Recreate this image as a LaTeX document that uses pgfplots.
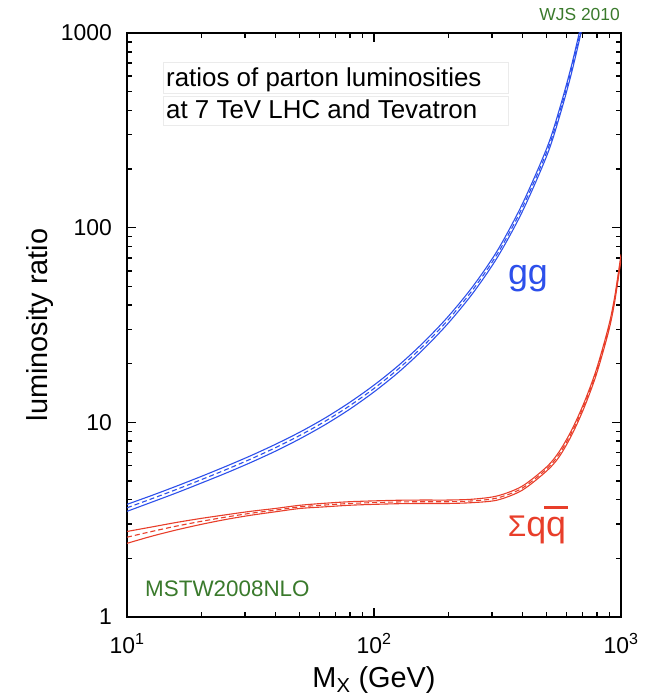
\documentclass[border=0pt]{standalone}
\usepackage{pgfplots}
\usepackage{pgfplotstable}
\pgfplotsset{compat=1.18}
\usepackage{fontspec}
\setmainfont{Liberation Sans}
\definecolor{ggblue}{RGB}{45,80,235}
\definecolor{qqred}{RGB}{232,62,42}
\definecolor{mstwgreen}{RGB}{58,122,44}

\pgfplotstableread{
x     c      lo     hi
10    3.64   3.49   3.79
12.59 4.05   3.89   4.21
15.85 4.52   4.34   4.70
19.95 5.07   4.87   5.27
25.12 5.71   5.48   5.94
31.62 6.47   6.21   6.73
39.81 7.40   7.10   7.70
50.12 8.57   8.23   8.91
63.10 10.09  9.69   10.49
79.43 12.13  11.64  12.62
100   14.93  14.33  15.53
125.9 18.88  18.12  19.64
158.5 24.72  23.73  25.71
199.5 33.57  32.23  34.91
251.2 47.97  46.05  49.89
316.2 73.5   70.56  76.44
398.1 126.2  120.5  131.9
501.2 246.0  234.9  257.1
562.3 385.5  368.2  402.8
631.0 654.6  625.1  684.1
707.9 1219   1164   1274
}\ggdata

\pgfplotstableread{
x     c      lo     hi
10    2.57   2.39   2.75
12.59 2.75   2.60   2.90
15.85 2.93   2.80   3.06
19.95 3.10   2.99   3.21
25.12 3.26   3.17   3.35
31.62 3.41   3.33   3.49
39.81 3.54   3.47   3.61
50.12 3.68   3.61   3.75
63.10 3.76   3.68   3.84
79.43 3.83   3.75   3.91
100   3.87   3.79   3.95
125.9 3.90   3.82   3.98
158.5 3.91   3.83   3.99
199.5 3.91   3.83   3.99
251.2 3.95   3.87   4.03
316.2 4.09   3.99   4.19
398.1 4.59   4.48   4.70
501.2 5.78   5.64   5.92
562.3 6.87   6.66   7.08
631.0 8.85   8.58   9.12
707.9 12.2   11.83  12.57
794.3 18.1   17.56  18.64
891.3 30.3   29.39  31.21
944.1 43.3   42.0   44.6
1000  70.7   68.6   72.8
}\qqdata

\begin{document}
\begin{tikzpicture}
\useasboundingbox (-127bp,-82bp) rectangle (523bp,617bp);
\begin{axis}[
  at={(0,0)}, anchor=south west,
  scale only axis, width=494bp, height=584bp,
  xmode=log, ymode=log,
  xmin=10, xmax=1000, ymin=1, ymax=1000,
  xtick={10,100,1000},
  xticklabels={10\textsuperscript{1},10\textsuperscript{2},10\textsuperscript{3}},
  ytick={1,10,100,1000},
  yticklabels={1,10,100,1000},
  minor xtick={20,30,40,50,60,70,80,90,200,300,400,500,600,700,800,900},
  minor ytick={2,3,4,5,6,7,8,9,20,30,40,50,60,70,80,90,200,300,400,500,600,700,800,900},
  tick align=inside,
  major tick length=9bp, minor tick length=5.5bp,
  tick style={black, line width=1.4bp},
  axis line style={line width=2bp},
  tick label style={font=\fontsize{23}{27}\selectfont},
  xticklabel style={anchor=base, yshift=-36bp},
  yticklabel style={anchor=east, inner sep=0pt, xshift=-15bp},
  xlabel={M\textsubscript{X} (GeV)},
  ylabel={luminosity ratio},
  label style={font=\fontsize{29}{33}\selectfont},
  xlabel style={at={(axis description cs:0.5,-0.120)}, anchor=base},
  ylabel style={at={(axis description cs:-0.176,0.5)}, anchor=center},
]
\addplot[ggblue, line width=1.1bp, smooth] table[x=x, y=hi] {\ggdata};
\addplot[ggblue, line width=1.1bp, smooth] table[x=x, y=lo] {\ggdata};
\addplot[ggblue, line width=1.1bp, smooth, dash pattern=on 5bp off 3bp] table[x=x, y=c] {\ggdata};
\addplot[qqred, line width=1.1bp, smooth] table[x=x, y=hi] {\qqdata};
\addplot[qqred, line width=1.1bp, smooth] table[x=x, y=lo] {\qqdata};
\addplot[qqred, line width=1.1bp, smooth, dash pattern=on 5bp off 3bp] table[x=x, y=c] {\qqdata};
\end{axis}
\draw[black!8, fill=white] (36bp,524bp) rectangle (381bp,555bp);
\draw[black!8, fill=white] (36bp,492bp) rectangle (381bp,521bp);
\node[anchor=base west, inner sep=0pt, font=\fontsize{26}{30}\selectfont] at (39bp,530bp) {ratios of parton luminosities};
\node[anchor=base west, inner sep=0pt, font=\fontsize{26}{30}\selectfont] at (39bp,498bp) {at 7 TeV LHC and Tevatron};
\node[ggblue, anchor=base, inner sep=0pt, font=\fontsize{36}{40}\selectfont] at (401bp,332bp) {gg};
\node[qqred, anchor=base, inner sep=0pt, font=\fontsize{36}{40}\selectfont] at (410bp,80bp) {{\fontsize{30}{30}\selectfont Σ}q\makebox[0pt][l]{\hspace{-2bp}\rule[28bp]{24bp}{2.5bp}}q};
\node[mstwgreen, anchor=base west, inner sep=0pt, font=\fontsize{22.5}{26}\selectfont] at (18bp,21bp) {MSTW2008NLO};
\node[mstwgreen, anchor=base east, inner sep=0pt, font=\fontsize{17.5}{20}\selectfont] at (493bp,596bp) {WJS 2010};
\end{tikzpicture}
\end{document}
